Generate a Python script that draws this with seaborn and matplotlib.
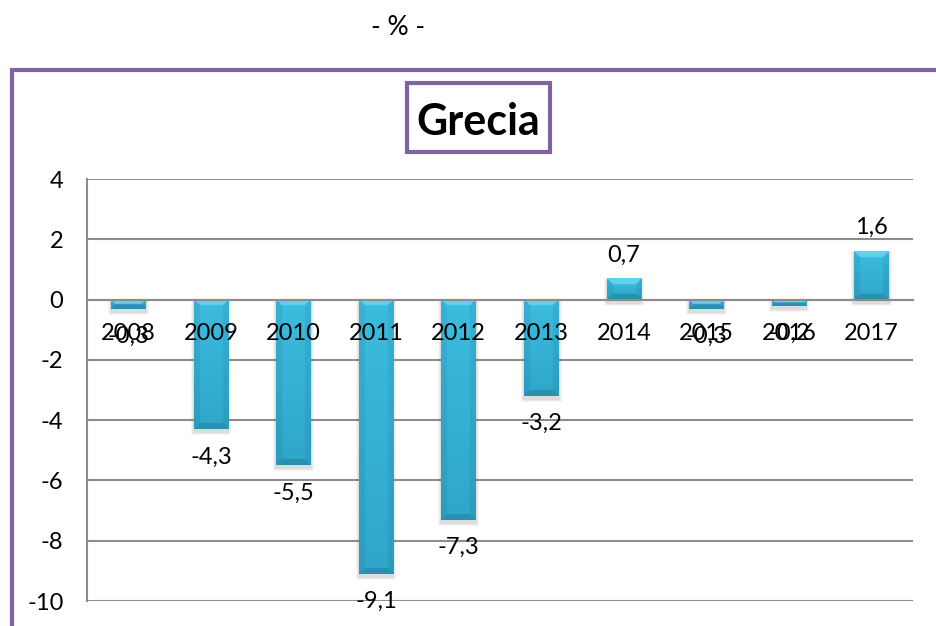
import numpy as np
import pandas as pd
import matplotlib
matplotlib.use("Agg")
import matplotlib.pyplot as plt
from matplotlib.patches import Rectangle
from matplotlib.colors import to_rgb
import seaborn as sns

# Annual variation, Greece (%)
years = ["2008", "2009", "2010", "2011", "2012", "2013", "2014", "2015", "2016", "2017"]
values = [-0.3, -4.3, -5.5, -9.1, -7.3, -3.2, 0.7, -0.3, -0.2, 1.6]
y_ticks = [-10, -8, -6, -4, -2, 0, 2, 4]

sns.set_theme(style="white")
plt.rcParams["font.family"] = ["Lato", "DejaVu Sans"]

W, H = 936, 626
PURPLE = "#8064A2"
GRID = "#8C8C8C"
FS = 17

fig = plt.figure(figsize=(W / 100, H / 100), dpi=100)
fig.patch.set_facecolor("white")
ax = fig.add_axes([87 / W, 1 - 601 / H, (913 - 87) / W, (601 - 179) / H])

df = pd.DataFrame({"year": years, "value": values})
sns.barplot(data=df, x="year", y="value", order=years, color="#33B3D8",
            width=0.42, errorbar=None, ax=ax, zorder=1, linewidth=0)

ax.set_xlim(-0.5, len(years) - 0.5)
ax.set_ylim(min(y_ticks), max(y_ticks))
ax.set_yticks(y_ticks)
ax.set_xlabel("")
ax.set_ylabel("")
ax.grid(False)
# category labels sit on top of the bars
ax.xaxis.set_zorder(3)
ax.yaxis.set_zorder(3)

# horizontal gridlines behind the bars
for yv in y_ticks:
    ax.axhline(yv, color=GRID, lw=1.5, zorder=0.3)

# axes styling: category axis crosses at zero
for s in ("top", "right"):
    ax.spines[s].set_visible(False)
ax.spines["left"].set_color(GRID)
ax.spines["left"].set_linewidth(1.5)
ax.spines["bottom"].set_color(GRID)
ax.spines["bottom"].set_linewidth(1.5)
ax.spines["bottom"].set_position(("data", 0))

ax.set_xticks(np.arange(-0.5, len(years), 1), minor=True)
ax.tick_params(axis="x", which="major", length=0, pad=17, labelsize=FS,
               labelcolor="black")
ax.tick_params(axis="x", which="minor", length=6, width=1.5, color=GRID,
               direction="out")
ax.tick_params(axis="y", which="major", length=7, width=1.5, color=GRID,
               direction="out", pad=10, labelsize=FS, labelcolor="black")
ax.set_yticklabels([str(v) for v in y_ticks])

# pixel scale of the data space
px_x = ax.bbox.width / (len(years))
px_y = ax.bbox.height / (max(y_ticks) - min(y_ticks))


def bevel_image(w_px, h_px, scale=3):
    w = max(int(round(w_px * scale)), 2)
    h = max(int(round(h_px * scale)), 2)
    yy, xx = np.mgrid[0:h, 0:w] + 0.5
    t = yy / h
    top_c = np.array(to_rgb("#3BBDE0"))
    bot_c = np.array(to_rgb("#2FA6CA"))
    img = top_c[None, None, :] * (1 - t[..., None]) + bot_c[None, None, :] * t[..., None]
    b = min(6 * scale, h / 2, w / 2)
    dt, db, dl, dr = yy, h - yy, xx, w - xx
    dmin = np.minimum(np.minimum(dt, db), np.minimum(dl, dr))
    inside = dmin < b
    top_f = inside & (dt == dmin)
    bot_f = inside & (db == dmin) & ~top_f
    side_f = inside & ~top_f & ~bot_f
    img[top_f] = to_rgb("#5FD2EF")
    img[bot_f] = to_rgb("#2A90AF")
    img[side_f] = img[side_f] * 0.94
    return img


bar_patches = [p for p in ax.patches if isinstance(p, Rectangle)]
for p in bar_patches:
    x0, w = p.get_x(), p.get_width()
    y0, hgt = p.get_y(), p.get_height()
    ylo, yhi = min(y0, y0 + hgt), max(y0, y0 + hgt)
    # soft drop shadow
    for k, a in ((3.0, 0.05), (2.0, 0.07), (1.0, 0.09)):
        sh = Rectangle((x0 - k / px_x, ylo - (3 + k) / px_y),
                       w + 2 * k / px_x, (yhi - ylo) + (2 * k) / px_y,
                       facecolor="#555555", edgecolor="none", alpha=a, zorder=0.8)
        ax.add_patch(sh)
    img = bevel_image(w * px_x, (yhi - ylo) * px_y)
    ax.imshow(img, extent=(x0, x0 + w, ylo, yhi), origin="upper",
              aspect="auto", interpolation="bilinear", zorder=1.1)

ax.set_xlim(-0.5, len(years) - 0.5)
ax.set_ylim(min(y_ticks), max(y_ticks))

# value labels at the bar ends
for i, v in enumerate(values):
    txt = f"{v:.1f}".replace(".", ",")
    off = 17 if v >= 0 else -20
    ax.annotate(txt, (i, v), xytext=(0, off), textcoords="offset points",
                ha="center", va="center", fontsize=FS, color="black",
                zorder=4, annotation_clip=False)

# outer chart frame
fig.patches.append(Rectangle((12 / W, -0.2), 1.2, (1 - 70 / H) + 0.2,
                             transform=fig.transFigure, fill=False,
                             edgecolor=PURPLE, linewidth=3, zorder=5))

# boxed chart title
fig.patches.append(Rectangle((407 / W, 1 - 152 / H), 143 / W, 69 / H,
                             transform=fig.transFigure, facecolor="white",
                             edgecolor=PURPLE, linewidth=3, zorder=5))
fig.text(478 / W, 1 - 135 / H, "Grecia", ha="center", va="baseline",
         fontsize=31, fontweight="bold", color="black", zorder=6)

fig.text(398 / W, 1 - 35 / H, "- % -", ha="center", va="baseline",
         fontsize=19, color="black")

fig.savefig("out.png", dpi=100, facecolor="white")
